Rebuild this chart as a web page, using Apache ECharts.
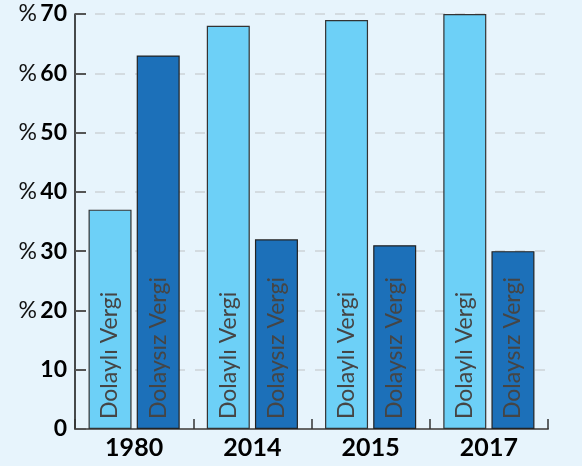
<!DOCTYPE html>
<html><head><meta charset="utf-8">
<script src="https://cdn.jsdelivr.net/npm/echarts@6/dist/echarts.min.js"></script>
<style>html,body{margin:0;padding:0;background:#e7f4fc;}#c{width:582px;height:466px;}</style>
</head><body><div id="c"></div>
<script>
const categories = ['1980', '2014', '2015', '2017'];
const dolayliVergi = [37, 68, 69, 70];
const dolaysizVergi = [63, 32, 31, 30];
const seriesNames = ['Dolaylı Vergi', 'Dolaysız Vergi'];
const yTicks = [0, 10, 20, 30, 40, 50, 60, 70];

const chart = echarts.init(document.getElementById('c'));
function innerLabel() {
  return {
    show: true, position: 'insideBottom', rotate: 90, distance: 10,
    align: 'left', verticalAlign: 'middle',
    formatter: '{a}', color: '#454545', fontSize: 23, fontFamily: 'Lato'
  };
}
chart.setOption({
  backgroundColor: '#e7f4fc',
  animation: false,
  grid: { left: 75, right: 34, top: 14, bottom: 37 },
  xAxis: {
    type: 'category', data: categories,
    axisLine: { lineStyle: { color: '#666', width: 2 } },
    axisTick: { show: true, inside: true, length: 10, lineStyle: { color: '#333', width: 1.5 } },
    axisLabel: { color: '#000', fontSize: 25, fontWeight: 'bold', fontFamily: 'Lato', margin: 6 }
  },
  yAxis: {
    type: 'value', min: yTicks[0], max: yTicks[yTicks.length - 1], interval: 10,
    axisLine: { show: true, lineStyle: { color: '#111', width: 1.5 } },
    axisTick: { show: true, inside: true, length: 11, lineStyle: { color: '#555', width: 2 } },
    splitLine: { lineStyle: { color: '#cdd2d6', type: [10, 10], width: 1.5 } },
    axisLabel: {
      margin: 8,
      formatter: v => v >= 20 ? '{p|%} {n|' + v + '}' : '{n|' + v + '}',
      rich: {
        p: { fontSize: 23, color: '#111', fontFamily: 'Lato' },
        n: { fontSize: 23, color: '#000', fontWeight: 'bold', fontFamily: 'Lato' }
      }
    }
  },
  series: [
    { name: seriesNames[0], type: 'bar', data: dolayliVergi, barWidth: 43, barGap: '12%',
      itemStyle: { color: '#6dd0f7', borderColor: '#333', borderWidth: 1.2 }, label: innerLabel() },
    { name: seriesNames[1], type: 'bar', data: dolaysizVergi, barWidth: 43,
      itemStyle: { color: '#1c70b9', borderColor: '#222', borderWidth: 1.2 }, label: innerLabel() }
  ]
});
</script></body></html>
